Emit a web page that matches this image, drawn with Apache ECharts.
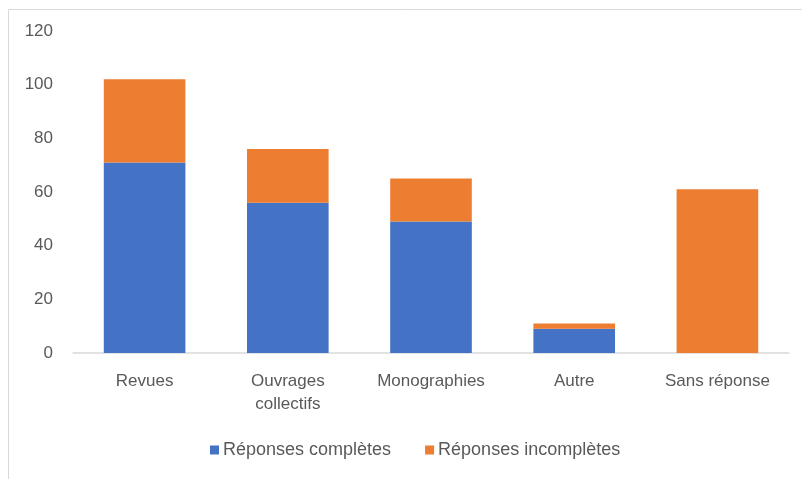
<!DOCTYPE html>
<html>
<head>
<meta charset="utf-8">
<script src="https://cdn.jsdelivr.net/npm/echarts@6/dist/echarts.min.js"></script>
<style>
html,body{margin:0;padding:0;background:#fff;}
#chart{width:802px;height:479px;}
</style>
</head>
<body>
<div id="chart"></div>
<script>
const categories = ['Revues', 'Ouvrages\ncollectifs', 'Monographies', 'Autre', 'Sans réponse'];
const completes = [71, 56, 49, 9, 0];
const incompletes = [31, 20, 16, 2, 61];
const seriesNames = ['Réponses complètes', 'Réponses incomplètes'];
const yTicks = { min: 0, max: 120, interval: 20 };

const FONT = "'Liberation Sans', Arial, sans-serif";
const chart = echarts.init(document.getElementById('chart'));
chart.setOption({
  animation: false,
  backgroundColor: '#fff',
  textStyle: { fontFamily: FONT },
  graphic: [{
    type: 'rect',
    shape: { x: 8.5, y: 9.5, width: 800, height: 480 },
    style: { fill: 'none', stroke: '#d9d9d9', lineWidth: 1 }
  }],
  grid: { left: 73, right: 13, top: 31, bottom: 126, containLabel: false },
  legend: {
    top: 441,
    left: 210,
    padding: 0,
    itemWidth: 9,
    itemHeight: 9,
    itemGap: 34,
    icon: 'rect',
    textStyle: { color: '#595959', fontSize: 18, lineHeight: 18, fontFamily: FONT, padding: [0, 0, 0, -1] },
    data: seriesNames
  },
  xAxis: {
    type: 'category',
    data: categories,
    axisLine: { lineStyle: { color: '#d9d9d9', width: 1.5 } },
    axisTick: { show: false },
    axisLabel: { color: '#595959', fontSize: 17, margin: 17, lineHeight: 23, fontFamily: FONT, interval: 0 }
  },
  yAxis: {
    type: 'value',
    min: yTicks.min,
    max: yTicks.max,
    interval: yTicks.interval,
    axisLine: { show: false },
    axisTick: { show: false },
    splitLine: { show: false },
    axisLabel: { color: '#595959', fontSize: 17, margin: 20, fontFamily: FONT }
  },
  series: [
    {
      name: seriesNames[0],
      type: 'bar',
      stack: 'total',
      data: completes,
      barWidth: '57%',
      itemStyle: { color: '#4472C4' }
    },
    {
      name: seriesNames[1],
      type: 'bar',
      stack: 'total',
      data: incompletes,
      barWidth: '57%',
      itemStyle: { color: '#ED7D31' }
    }
  ]
});
</script>
</body>
</html>
